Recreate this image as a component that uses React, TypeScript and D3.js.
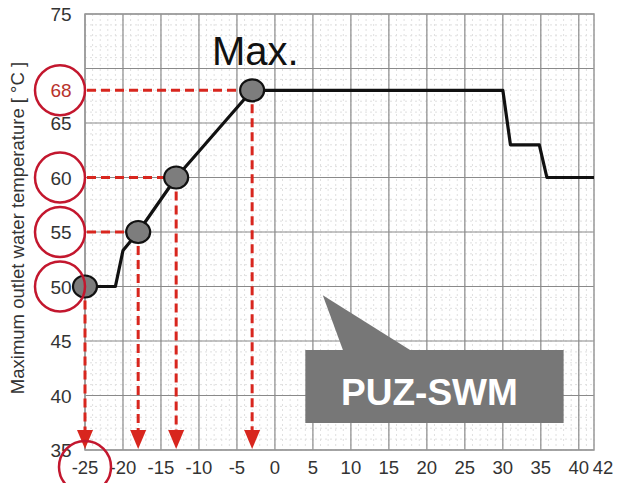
import * as d3 from "d3";

const W = 617;
const H = 483;

// outlet temperature envelope (x = outdoor temp, y = max outlet water temp)
const curveX = [-25, -21, -20, -18, -13, -3, 30, 31, 34.8, 35.8, 42];
const curveY = [50, 50, 53.3, 55, 60, 68, 68, 63, 63, 60, 60];

// highlighted points with their reading lines
const markX = [-25, -18, -13, -3];
const markY = [50, 55, 60, 68];

const xTicks = [-25, -20, -15, -10, -5, 0, 5, 10, 15, 20, 25, 30, 35, 40, 42];
const xLabels = ["-25", "-20", "-15", "-10", "-5", "0", "5", "10", "15", "20", "25", "30", "35", "40", "42"];
const yTicks = [35, 40, 45, 50, 55, 60, 65, 68, 75];
const circledY = [50, 55, 60, 68];

const RED = "#d8261e";
const CIRCLE = "#c3172e";

export default function App() {
  const x = d3.scaleLinear().domain([-25, 42]).range([85, 594]);
  const y = d3.scaleLinear().domain([35, 75]).range([450, 14]);

  const line = d3
    .line<number>()
    .x((_, i) => x(curveX[i]))
    .y((d) => y(d));

  const minorX = d3.range(-25, 43, 1);
  const minorY = d3.range(35, 76, 1);
  const majorX = d3.range(-25, 41, 5);
  const majorY = d3.range(35, 76, 5);

  const tipX = x(6.3);
  const tipY = y(49.2);

  return (
    <svg width={W} height={H} style={{ position: "absolute", left: 0, top: 0, background: "#fff" }}
      fontFamily="'Liberation Sans', Arial, sans-serif">
      {/* minor grid */}
      <g stroke="#e0e0e0" strokeWidth={1} strokeDasharray="2,3">
        {minorX.map((v) => (
          <line key={"mx" + v} x1={x(v)} x2={x(v)} y1={y(75)} y2={y(35)} />
        ))}
        {minorY.map((v) => (
          <line key={"my" + v} x1={x(-25)} x2={x(42)} y1={y(v)} y2={y(v)} />
        ))}
      </g>
      {/* major grid */}
      <g stroke="#8a8a8a" strokeWidth={1.2}>
        {majorX.map((v) => (
          <line key={"Mx" + v} x1={x(v)} x2={x(v)} y1={y(75)} y2={y(35)} />
        ))}
        {majorY.map((v) => (
          <line key={"My" + v} x1={x(-25)} x2={x(42)} y1={y(v)} y2={y(v)} />
        ))}
      </g>
      <rect x={x(-25)} y={y(75)} width={x(42) - x(-25)} height={y(35) - y(75)} fill="none" stroke="#999" strokeWidth={1.5} />

      {/* callout */}
      <path d={`M${tipX},${tipY} L${x(9)},${351} L${x(18)},${351} Z`} fill="#777" />
      <rect x={x(4)} y={350} width={x(38) - x(4)} height={73} fill="#777" />
      <text x={(x(4) + x(38)) / 2 - 5} y={405} textAnchor="middle" fill="#fff" fontSize={37} fontWeight="bold">
        PUZ-SWM
      </text>

      {/* red reading lines */}
      <g stroke={RED} strokeWidth={3} strokeDasharray="9,5" fill="none">
        {markX.map((v, i) => (
          <line key={"v" + i} x1={x(v)} x2={x(v)} y1={y(markY[i])} y2={y(35) - 18} />
        ))}
        {markX.map((v, i) =>
          markY[i] > 50 ? <line key={"h" + i} x1={x(-25) + 2} x2={x(v)} y1={y(markY[i])} y2={y(markY[i])} /> : null
        )}
      </g>
      {markX.map((v, i) => (
        <path key={"a" + i} d={`M${x(v) - 8},${y(35) - 20} L${x(v) + 8},${y(35) - 20} L${x(v)},${y(35) - 1} Z`} fill={RED} />
      ))}

      {/* curve */}
      <path d={line(curveY) ?? ""} fill="none" stroke="#111" strokeWidth={3.2} strokeLinejoin="round" />
      {markX.map((v, i) => (
        <ellipse key={"p" + i} cx={x(v)} cy={y(markY[i])} rx={12} ry={11} fill="#7d7d7d" stroke="#111" strokeWidth={2.2} />
      ))}

      <text x={212} y={65} fontSize={40} fill="#111">Max.</text>

      {/* y tick labels */}
      {yTicks.map((v) => (
        <text key={"yt" + v} x={61} y={y(v) + 7} textAnchor="middle" fontSize={19}
          fill={v === 68 ? "#b8322c" : "#333"}>
          {v}
        </text>
      ))}
      {circledY.map((v) => (
        <circle key={"c" + v} cx={60} cy={y(v)} r={25} fill="none" stroke={CIRCLE} strokeWidth={2.5} />
      ))}

      {/* x tick labels */}
      {xTicks.map((v, i) => (
        <text key={"xt" + v} x={v === 42 ? x(v) + 9 : x(v)} y={474} textAnchor="middle" fontSize={18.5} fill="#333">
          {xLabels[i]}
        </text>
      ))}
      <circle cx={x(-25)} cy={467} r={26} fill="none" stroke={CIRCLE} strokeWidth={2.5} />

      <text transform={`translate(24,228) rotate(-90)`} textAnchor="middle" fontSize={18.5} fill="#333">
        Maximum outlet water temperature [ °C ]
      </text>
    </svg>
  );
}
